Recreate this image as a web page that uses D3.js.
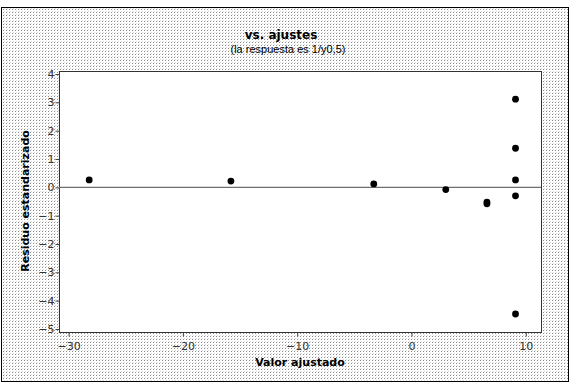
<!DOCTYPE html>
<html>
<head>
<meta charset="utf-8">
<script src="https://cdn.jsdelivr.net/npm/d3@7"></script>
<style>
  body { margin: 0; background: #fff; }
  svg { display: block; }
</style>
</head>
<body>
<script>
// valores
var ajustados = [-28.2, -15.8, -3.3, 3.0, 6.6, 6.6, 9.1, 9.1, 9.1, 9.1, 9.1];
var residuos  = [0.26, 0.22, 0.12, -0.08, -0.52, -0.58, 3.11, 1.38, 0.26, -0.30, -4.47];
var ticksX = [-30, -20, -10, 0, 10];
var ticksY = [4, 3, 2, 1, 0, -1, -2, -3, -4, -5];

var ancho = 572, altura = 383;
var margen = { superior: 71, derecho: 31, inferior: 51, izquierdo: 59 };

var svg = d3.select("body").append("svg")
    .attr("width", ancho)
    .attr("height", altura);

// fondo punteado
var patron = svg.append("defs").append("pattern")
    .attr("id", "punteado")
    .attr("width", 3).attr("height", 3)
    .attr("patternUnits", "userSpaceOnUse");
patron.append("rect").attr("width", 3).attr("height", 3).attr("fill", "#fff");
patron.append("rect").attr("x", 0).attr("y", 0).attr("width", 1).attr("height", 1).attr("fill", "#8a8a8a");
patron.append("rect").attr("x", 1).attr("y", 2).attr("width", 1).attr("height", 1).attr("fill", "#d8d8d8");

svg.append("rect")
    .attr("x", 1.5).attr("y", 7.5)
    .attr("width", 567).attr("height", 374)
    .attr("fill", "url(#punteado)")
    .attr("stroke", "#000");

var x = d3.scaleLinear().domain([-30.84, 11.33])
    .range([margen.izquierdo, ancho - margen.derecho]);
var y = d3.scaleLinear().domain([-5.106, 4.106])
    .range([altura - margen.inferior, margen.superior]);

var g = svg.append("g");

g.append("rect")
    .attr("x", x.range()[0] + 0.5).attr("y", y.range()[1] + 0.5)
    .attr("width", x.range()[1] - x.range()[0])
    .attr("height", y.range()[0] - y.range()[1])
    .attr("fill", "#fff")
    .attr("stroke", "#333");

// ejes
var ejeX = d3.axisBottom(x).tickValues(ticksX).tickSize(4).tickSizeOuter(0).tickFormat(d3.format("d"));
var ejeY = d3.axisLeft(y).tickValues(ticksY).tickSize(4).tickSizeOuter(0).tickFormat(d3.format("d"));

var gx = g.append("g")
    .attr("transform", "translate(0," + (y.range()[0] + 0.5) + ")")
    .call(ejeX);
var gy = g.append("g")
    .attr("transform", "translate(" + (x.range()[0] + 0.5) + ",0)")
    .call(ejeY);

[gx, gy].forEach(function (eje) {
    eje.select(".domain").remove();
    eje.selectAll("line").attr("stroke", "#444");
    eje.selectAll("text")
        .attr("fill", "#333")
        .style("font-family", "DejaVu Sans")
        .style("font-size", "11px");
});
gx.selectAll("text").attr("dy", "1em").attr("y", 6);
gy.selectAll("text").attr("x", -5);

// linea de referencia en cero
g.append("line")
    .attr("x1", x.range()[0]).attr("x2", x.range()[1])
    .attr("y1", y(0)).attr("y2", y(0))
    .attr("stroke", "#6f6f6f")
    .attr("stroke-width", 1.2);

g.selectAll("circle")
    .data(ajustados)
    .enter().append("circle")
    .attr("cx", function (d) { return x(d); })
    .attr("cy", function (d, i) { return y(residuos[i]); })
    .attr("r", 3.4)
    .attr("fill", "#000");

// titulos
svg.append("text")
    .attr("x", 281).attr("y", 39)
    .attr("text-anchor", "middle")
    .style("font-family", "DejaVu Sans")
    .style("font-weight", "bold")
    .style("font-size", "12px")
    .text("vs. ajustes");

svg.append("text")
    .attr("x", 288).attr("y", 53)
    .attr("text-anchor", "middle")
    .style("font-family", "Liberation Sans")
    .style("font-size", "11px")
    .text("(la respuesta es 1/y0,5)");

svg.append("text")
    .attr("x", 300).attr("y", 366)
    .attr("text-anchor", "middle")
    .style("font-family", "DejaVu Sans")
    .style("font-weight", "bold")
    .style("font-size", "11px")
    .text("Valor ajustado");

svg.append("text")
    .attr("transform", "translate(29,201) rotate(-90)")
    .attr("text-anchor", "middle")
    .style("font-family", "DejaVu Sans")
    .style("font-weight", "bold")
    .style("font-size", "11px")
    .text("Residuo estandarizado");
</script>
</body>
</html>
